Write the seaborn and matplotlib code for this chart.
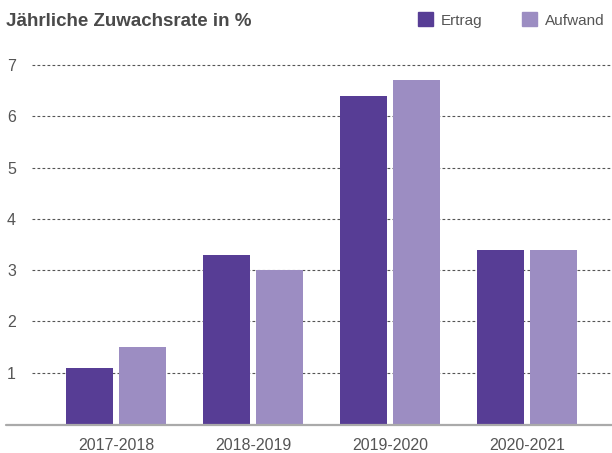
import pandas as pd
import seaborn as sns
import matplotlib.pyplot as plt
from matplotlib.patches import Patch
from matplotlib.lines import Line2D

# data
periods = ['2017-2018', '2018-2019', '2019-2020', '2020-2021']
ertrag = [1.1, 3.3, 6.4, 3.4]
aufwand = [1.5, 3.0, 6.7, 3.4]

df = pd.DataFrame({
    'Periode': periods * 2,
    'Wert': ertrag + aufwand,
    'Serie': ['Ertrag'] * 4 + ['Aufwand'] * 4
})

colors = {'Ertrag': '#573d95', 'Aufwand': '#9c8dc2'}
text_col = '#555555'

sns.set_style('white')
plt.rcParams['font.family'] = ['Liberation Sans', 'DejaVu Sans']

fig = plt.figure(figsize=(6.12, 4.53), dpi=100)
ax = fig.add_axes([32 / 612, 1 - 424 / 453, 580 / 612, (424 - 59.8) / 453])

sns.barplot(
    data=df,
    x='Periode',
    y='Wert',
    hue='Serie',
    palette=colors,
    width=0.774,
    gap=0.13,
    saturation=1,
    linewidth=0,
    legend=False,
    ax=ax
)

ax.set_xlim(-0.613, 3.62)
ax.set_ylim(0, 7.1)
ax.set_yticks(range(1, 8))
ax.yaxis.grid(True, linestyle=(0, (2.5, 2)), color='#555555', linewidth=0.8)
ax.set_axisbelow(True)
for s in ax.spines.values():
    s.set_visible(False)

ax.set_xlabel('')
ax.set_ylabel('')
ax.tick_params(axis='x', length=0, pad=10, labelsize=11.5, labelcolor=text_col)
ax.tick_params(axis='y', length=0, labelsize=11.5, labelcolor=text_col, pad=18)
for lbl in ax.get_yticklabels():
    lbl.set_horizontalalignment('left')

# baseline
fig.add_artist(Line2D([6 / 612, 1], [1 - 424.5 / 453] * 2, color='#aaaaaa', linewidth=1.6))

fig.text(6 / 612, 1 - 21 / 453, 'Jährliche Zuwachsrate in %', fontsize=13.5,
         fontweight='bold', color='#4a4a4a', va='center', ha='left')

handles = [Patch(color=colors['Ertrag'], label='Ertrag'),
           Patch(color=colors['Aufwand'], label='Aufwand')]
fig.legend(handles=handles, ncol=2, loc='center right', bbox_to_anchor=(1.0, 1 - 20 / 453),
           frameon=False, fontsize=11, labelcolor=text_col, handlelength=1.0, handleheight=1.0,
           handletextpad=0.5, columnspacing=2.6, borderaxespad=0.1)

fig.savefig('out.png', dpi=100)
